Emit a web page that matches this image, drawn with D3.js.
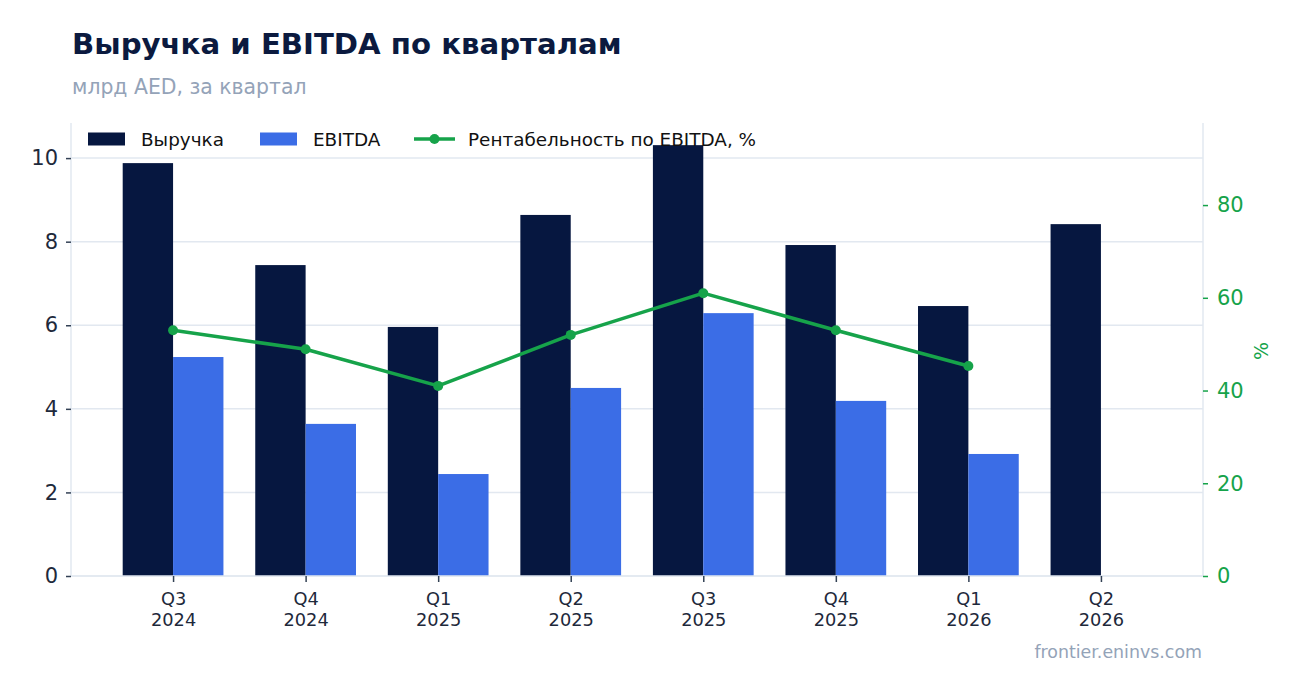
<!DOCTYPE html>
<html>
<head>
<meta charset="utf-8">
<script src="https://cdn.jsdelivr.net/npm/d3@7"></script>
<style>
  html, body { margin: 0; padding: 0; background: #fff; }
  svg { display: block; font-family: "DejaVu Sans", sans-serif; }
</style>
</head>
<body>
<svg id="chart"></svg>
<script>
// quarters and values (bn AED per quarter)
const quarters = ["Q3", "Q4", "Q1", "Q2", "Q3", "Q4", "Q1", "Q2"];
const years = ["2024", "2024", "2025", "2025", "2025", "2025", "2026", "2026"];
const revenue = [9.88, 7.44, 5.96, 8.64, 10.31, 7.92, 6.46, 8.42];
const ebitda = [5.24, 3.64, 2.44, 4.50, 6.29, 4.19, 2.92, null];
const margin = [53.0, 48.9, 41.0, 52.0, 61.0, 53.0, 45.3, null];
const leftTicks = [0, 2, 4, 6, 8, 10];
const rightTicks = [0, 20, 40, 60, 80];

const W = 1302, H = 693;
const plot = { left: 71, right: 1203, top: 123, bottom: 576 };
const navy = "#061740", blue = "#3b6de6", green = "#16a34a";
const grid = "#e2e8f0", tickText = "#1e293b", muted = "#94a3b8";

const svg = d3.select("#chart").attr("width", W).attr("height", H);

const x = d3.scaleLinear().domain([-0.77, quarters.length - 1 + 0.77]).range([plot.left, plot.right]);
const y = d3.scaleLinear().domain([0, 10.84]).range([plot.bottom, plot.top]);
const y2 = d3.scaleLinear().domain([0, 97.7]).range([plot.bottom, plot.top]);
const bw = x(0.38) - x(0);

// title
svg.append("text").attr("x", 72).attr("y", 54)
  .attr("font-size", 29.2).attr("font-weight", "bold").attr("fill", "#0b1a3f")
  .text("Выручка и EBITDA по кварталам");
svg.append("text").attr("x", 72).attr("y", 94)
  .attr("font-size", 20.4).attr("fill", muted)
  .text("млрд AED, за квартал");

// grid
svg.append("g").selectAll("line").data(leftTicks).join("line")
  .attr("x1", plot.left).attr("x2", plot.right)
  .attr("y1", d => y(d)).attr("y2", d => y(d))
  .attr("stroke", grid).attr("stroke-width", 1.5);

// bars
const idx = d3.range(quarters.length);
svg.append("g").selectAll("rect").data(idx).join("rect")
  .attr("x", i => x(i) - bw).attr("width", bw)
  .attr("y", i => y(revenue[i])).attr("height", i => y(0) - y(revenue[i]))
  .attr("fill", navy);
svg.append("g").selectAll("rect").data(idx.filter(i => ebitda[i] != null)).join("rect")
  .attr("x", i => x(i)).attr("width", bw)
  .attr("y", i => y(ebitda[i])).attr("height", i => y(0) - y(ebitda[i]))
  .attr("fill", blue);

// spines
const sp = svg.append("g").attr("stroke", grid).attr("stroke-width", 1.5);
sp.append("line").attr("x1", plot.left).attr("x2", plot.left).attr("y1", plot.top).attr("y2", plot.bottom);
sp.append("line").attr("x1", plot.right).attr("x2", plot.right).attr("y1", plot.top).attr("y2", plot.bottom);
sp.append("line").attr("x1", plot.left).attr("x2", plot.right).attr("y1", plot.bottom).attr("y2", plot.bottom);

// margin line
const mIdx = idx.filter(i => margin[i] != null);
svg.append("path").datum(mIdx)
  .attr("d", d3.line().x(i => x(i)).y(i => y2(margin[i])))
  .attr("fill", "none").attr("stroke", green).attr("stroke-width", 3.5)
  .attr("stroke-linejoin", "round");
svg.append("g").selectAll("circle").data(mIdx).join("circle")
  .attr("cx", i => x(i)).attr("cy", i => y2(margin[i])).attr("r", 5)
  .attr("fill", green);

// left axis
const la = svg.append("g").attr("transform", `translate(${plot.left},0)`)
  .call(d3.axisLeft(y).tickValues(leftTicks).tickSize(5).tickPadding(8));
la.select(".domain").remove();
la.selectAll(".tick line").attr("stroke", "#334155").attr("stroke-width", 1.5);
la.selectAll(".tick text").attr("font-size", 21).attr("fill", tickText).attr("font-family", "DejaVu Sans");

// right axis
const ra = svg.append("g").attr("transform", `translate(${plot.right},0)`)
  .call(d3.axisRight(y2).tickValues(rightTicks).tickSize(5).tickPadding(9));
ra.select(".domain").remove();
ra.selectAll(".tick line").attr("stroke", green).attr("stroke-width", 1.5);
ra.selectAll(".tick text").attr("font-size", 21).attr("fill", green).attr("font-family", "DejaVu Sans");
svg.append("text").attr("transform", `translate(1268,351) rotate(-90)`)
  .attr("text-anchor", "middle").attr("font-size", 19).attr("fill", green).text("%");

// bottom axis
const ba = svg.append("g").attr("transform", `translate(0,${plot.bottom})`)
  .call(d3.axisBottom(x).tickValues(idx).tickSize(6).tickFormat(""));
ba.select(".domain").remove();
ba.selectAll(".tick line").attr("stroke", "#334155").attr("stroke-width", 1.5);
const bl = ba.selectAll(".tick").append("text")
  .attr("text-anchor", "middle").attr("font-size", 17.8).attr("fill", tickText)
  .attr("font-family", "DejaVu Sans");
bl.append("tspan").attr("x", 0).attr("y", 28.5).text(i => quarters[i]);
bl.append("tspan").attr("x", 0).attr("y", 49.5).text(i => years[i]);

// legend
const lg = svg.append("g").attr("font-size", 18.4).attr("fill", "#111");
const legendItems = [
  { label: "Выручка", kind: "bar", color: navy, x: 88 },
  { label: "EBITDA", kind: "bar", color: blue, x: 260 },
  { label: "Рентабельность по EBITDA, %", kind: "line", color: green, x: 414 }
];
legendItems.forEach(it => {
  const g = lg.append("g").attr("transform", `translate(${it.x},139)`);
  if (it.kind === "bar") {
    g.append("rect").attr("x", 0).attr("y", -6.5).attr("width", 37).attr("height", 13).attr("fill", it.color);
  } else {
    g.append("line").attr("x1", 0).attr("x2", 41).attr("stroke", it.color).attr("stroke-width", 3.5);
    g.append("circle").attr("cx", 20.5).attr("r", 5).attr("fill", it.color);
  }
  g.append("text").attr("x", it.kind === "bar" ? 53 : 54).attr("dy", "0.36em").text(it.label);
});

// watermark
svg.append("text").attr("x", 1202).attr("y", 658).attr("text-anchor", "end")
  .attr("font-size", 17.4).attr("fill", muted).text("frontier.eninvs.com");
</script>
</body>
</html>
